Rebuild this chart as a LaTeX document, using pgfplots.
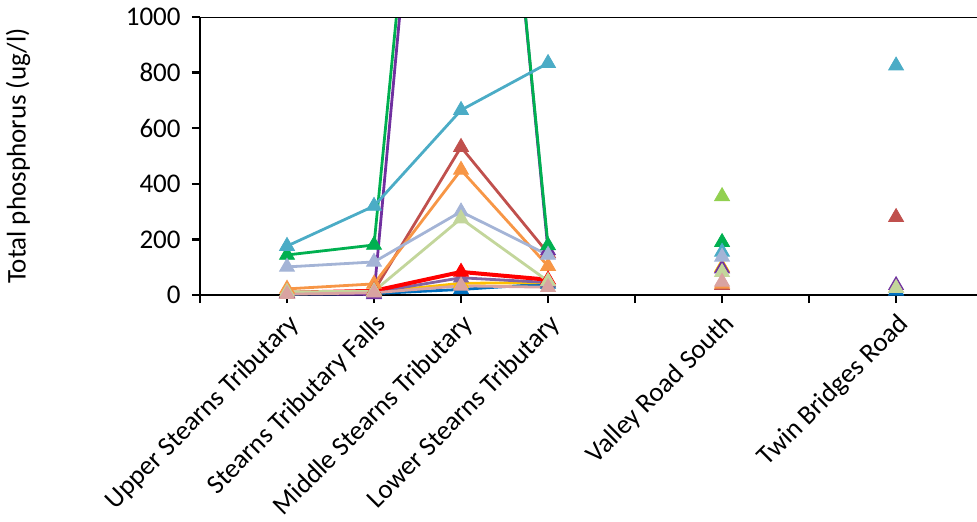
\documentclass[border=0pt]{standalone}
\usepackage{fontspec}
\setmainfont{Carlito}
\usepackage{pgfplots}
\pgfplotsset{compat=1.18}
\definecolor{cblue}{HTML}{0070C0}
\definecolor{cyellow}{HTML}{FFC000}
\definecolor{cred}{HTML}{C0504D}
\definecolor{corange}{HTML}{F79646}
\definecolor{cpurpleb}{HTML}{8064A2}
\definecolor{cbright}{HTML}{FF0000}
\definecolor{cpurple}{HTML}{7030A0}
\definecolor{cgreen}{HTML}{00B050}
\definecolor{caqua}{HTML}{4BACC6}
\definecolor{clblue}{HTML}{A4B4D6}
\definecolor{cpale}{HTML}{C3D69B}
\definecolor{cpink}{HTML}{D9A3A1}
\definecolor{clgreen}{HTML}{92D050}
\pgfplotsset{
  ser/.style={color=#1, line width=1.4pt, mark=triangle*, mark size=4.3pt,
    mark options={solid, fill=#1, draw=#1, line width=0.4pt}},
}
\begin{document}
\fontsize{13.5}{16}\selectfont
\begin{tikzpicture}
\begin{axis}[
  scale only axis, width=388.5pt, height=139pt,
  xmin=0, xmax=8.93, ymin=0, ymax=1000,
  axis x line*=bottom, axis y line*=left,
  axis line style={line width=1.2pt, black},
  tick align=outside, major tick length=4pt,
  tick style={line width=1.2pt, black},
  xtick={0,1,2,3,4,5,6,7,8},
  xticklabels={,Upper Stearns Tributary,Stearns Tributary Falls,Middle Stearns Tributary,Lower Stearns Tributary,,Valley Road South,,Twin Bridges Road},
  ytick={0,200,400,600,800,1000},
  /pgf/number format/assume math mode=true,
  /pgf/number format/1000 sep={},
  every tick label/.append style={font=\fontsize{13.5}{16}\selectfont},
  xticklabel style={rotate=45, anchor=east, xshift=1.5pt, yshift=-9pt},
  yticklabel style={xshift=-1pt},
  ylabel={Total phosphorus (ug/l)},
  ylabel style={font=\fontsize{13.5}{16}\selectfont, at={(axis description cs:-0.234,0.5)}, anchor=center},
  unbounded coords=jump,
]
\addplot[ser=cblue] coordinates {(1,3) (2,5) (3,20) (4,40) (5,nan) (6,nan) (7,nan) (8,15)};
\addplot[ser=cyellow] coordinates {(1,5) (2,10) (3,42) (4,45) (5,nan) (6,100)};
\addplot[ser=cred] coordinates {(1,8) (2,15) (3,532) (4,150) (5,nan) (6,35) (7,nan) (8,280)};
\addplot[ser=corange] coordinates {(1,22) (2,40) (3,450) (4,104) (5,nan) (6,40) (7,nan) (8,25)};
\addplot[ser=cpurpleb] coordinates {(1,5) (2,10) (3,62) (4,45)};
\addplot[ser=cbright, line width=2pt] coordinates {(1,8) (2,15) (3,83) (4,55)};
\addplot[ser=cpurple] coordinates {(1,5) (2,2) (3,3400) (4,160) (5,nan) (6,95) (7,nan) (8,35)};
\addplot[ser=cgreen] coordinates {(1,144) (2,180) (3,3370) (4,178) (5,nan) (6,190)};
\addplot[ser=caqua] coordinates {(1,176) (2,320) (3,665) (4,834) (5,nan) (6,155) (7,nan) (8,825)};
\addplot[ser=clblue] coordinates {(1,101) (2,119) (3,300) (4,144) (5,nan) (6,137)};
\addplot[ser=cpale] coordinates {(1,11) (2,14) (3,275) (4,50) (5,nan) (6,82) (7,nan) (8,25)};
\addplot[ser=cpink] coordinates {(1,3) (2,8) (3,33) (4,28) (5,nan) (6,47)};
\addplot[ser=clgreen] coordinates {(6,355)};
\draw[line width=1.2pt, black] (rel axis cs:0,1) -- (rel axis cs:1,1);
\end{axis}
\pgfresetboundingbox
\path[use as bounding box] (-100pt,-113pt) rectangle (388.5pt,147.5pt);
\end{tikzpicture}
\end{document}
